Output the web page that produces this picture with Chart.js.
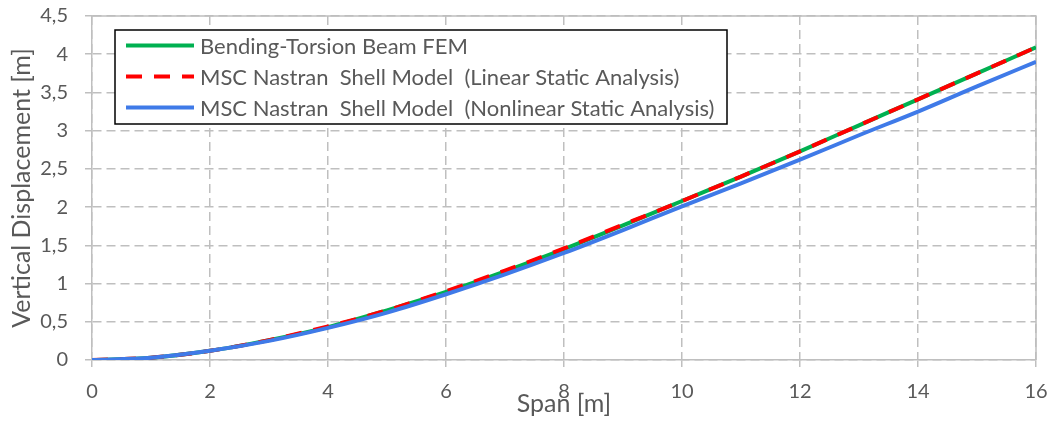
<!DOCTYPE html>
<html>
<head>
<meta charset="utf-8">
<script src="https://cdn.jsdelivr.net/npm/chart.js@4"></script>
<style>
  html, body { margin: 0; padding: 0; background: #fff; }
  #wrap { width: 1054px; height: 421px; }
</style>
</head>
<body>
<div id="wrap"><canvas id="myChart" width="1054" height="421"></canvas></div>
<script>
// values
const spans = [0, 1, 2, 3, 4, 5, 6, 7, 8, 9, 10, 11, 12, 13, 14, 15, 16];
const beamFEM = [0, 0.03, 0.12, 0.26, 0.43, 0.65, 0.89, 1.16, 1.45, 1.76, 2.08, 2.40, 2.73, 3.07, 3.41, 3.75, 4.09];
const shellLinear = [0, 0.03, 0.12, 0.26, 0.44, 0.65, 0.90, 1.17, 1.46, 1.77, 2.08, 2.40, 2.73, 3.07, 3.41, 3.75, 4.09];
const shellNonlinear = [0, 0.03, 0.12, 0.25, 0.42, 0.62, 0.86, 1.12, 1.40, 1.70, 2.01, 2.31, 2.62, 2.94, 3.25, 3.58, 3.90];
const seriesNames = [
    'Bending-Torsion Beam FEM',
    'MSC Nastran  Shell Model  (Linear Static Analysis)',
    'MSC Nastran  Shell Model  (Nonlinear Static Analysis)'
];

const font = 'Lato';
const textColor = '#595959';
const gridColor = '#BFBFBF';

function pts(ys) {
    return spans.map((x, i) => ({ x: x, y: ys[i] }));
}

// solid top / right frame of the plot area
const frame = {
    id: 'frame',
    beforeDatasetsDraw(chart) {
        const a = chart.chartArea;
        const ctx = chart.ctx;
        ctx.save();
        ctx.strokeStyle = gridColor;
        ctx.lineWidth = 1.5;
        ctx.beginPath();
        ctx.moveTo(a.left, a.top);
        ctx.lineTo(a.right, a.top);
        ctx.lineTo(a.right, a.bottom);
        ctx.stroke();
        ctx.restore();
    }
};

// boxed legend inside the plot
const boxLegend = {
    id: 'boxLegend',
    afterDatasetsDraw(chart) {
        const ctx = chart.ctx;
        ctx.save();
        ctx.fillStyle = '#fff';
        ctx.fillRect(115, 30, 612, 94);
        ctx.strokeStyle = '#000';
        ctx.lineWidth = 1.5;
        ctx.strokeRect(115, 30, 612, 94);
        ctx.font = '22px ' + font;
        ctx.textBaseline = 'middle';
        ctx.fillStyle = textColor;
        chart.data.datasets.forEach((ds, i) => {
            const y = 45.5 + i * 31;
            ctx.strokeStyle = ds.borderColor;
            ctx.lineWidth = ds.borderWidth;
            ctx.setLineDash(ds.borderDash || []);
            ctx.beginPath();
            ctx.moveTo(126, y);
            ctx.lineTo(194, y);
            ctx.stroke();
            ctx.setLineDash([]);
            ctx.fillText(ds.label, 200, y + 1);
        });
        ctx.restore();
    }
};

const ctx = document.getElementById('myChart').getContext('2d');
const myChart = new Chart(ctx, {
    type: 'line',
    data: {
        datasets: [{
            label: seriesNames[0],
            data: pts(beamFEM),
            borderColor: '#00B050',
            borderWidth: 4,
            order: 2
        }, {
            label: seriesNames[1],
            data: pts(shellLinear),
            borderColor: '#FF0000',
            borderWidth: 4,
            borderDash: [16, 12],
            order: 1
        }, {
            label: seriesNames[2],
            data: pts(shellNonlinear),
            borderColor: '#3F7AE8',
            borderWidth: 4,
            order: 0
        }]
    },
    options: {
        responsive: false,
        animation: false,
        elements: {
            point: { radius: 0 },
            line: { tension: 0.4, cubicInterpolationMode: 'monotone', borderCapStyle: 'butt' }
        },
        layout: { padding: { top: 16, right: 18, left: 0, bottom: 0 } },
        plugins: {
            legend: { display: false },
            tooltip: { enabled: false }
        },
        scales: {
            x: {
                type: 'linear',
                min: 0,
                max: 16,
                afterFit: s => {
                    s.height = 61;
                    s.paddingLeft = 0;
                    s.paddingRight = 0;
                },
                ticks: {
                    stepSize: 2,
                    color: textColor,
                    font: { family: font, size: 20 },
                    padding: 13,
                    maxRotation: 0
                },
                grid: {
                    color: gridColor,
                    lineWidth: 1.5,
                    tickLength: 7,
                    tickColor: gridColor,
                    tickBorderDash: []
                },
                border: { color: gridColor, width: 1.5, dash: [9, 5] },
                title: {
                    display: true,
                    text: 'Span [m]',
                    color: textColor,
                    font: { family: font, size: 25 },
                    padding: { top: 2, bottom: 2 }
                }
            },
            y: {
                min: 0,
                max: 4.5,
                afterFit: s => {
                    s.width = 92;
                    s.paddingTop = 0;
                    s.paddingBottom = 0;
                },
                ticks: {
                    stepSize: 0.5,
                    color: textColor,
                    font: { family: font, size: 20 },
                    padding: 17,
                    callback: v => String(v).replace('.', ',')
                },
                grid: {
                    color: gridColor,
                    lineWidth: 1.5,
                    tickLength: 7,
                    tickColor: gridColor,
                    tickBorderDash: []
                },
                border: { color: gridColor, width: 1.5, dash: [9, 5] },
                title: {
                    display: true,
                    text: 'Vertical Displacement [m]',
                    color: textColor,
                    font: { family: font, size: 25 },
                    padding: { top: 7, bottom: 2 }
                }
            }
        }
    },
    plugins: [frame, boxLegend]
});
</script>
</body>
</html>
